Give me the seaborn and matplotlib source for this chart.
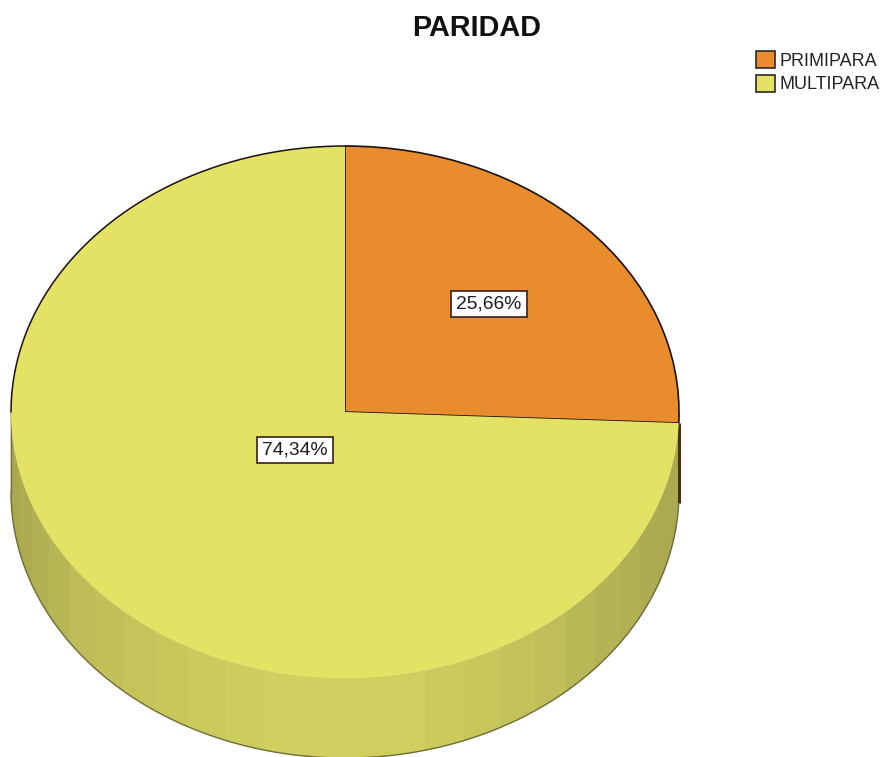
import numpy as np
import matplotlib.pyplot as plt
import seaborn as sns

# --- Data ---
CATEGORIES = ['PRIMIPARA', 'MULTIPARA']
PERCENTAGES = [25.66, 74.34]
TITLE = 'PARIDAD'

# --- Colours ---
SLICE_COLORS = ['#e98c2d', '#e3e264']
SIDE_SHADES = ['#a6a54c', '#b0af52', '#c0bf58', '#c9c85c', '#d0cf5f',
               '#cfce5e', '#c6c55b', '#b7b655', '#acab50', '#a9a84f']

# Pixel geometry of the tilted pie
WIDTH, HEIGHT = 882, 757
CENTER_X, CENTER_Y = 345, 412
RADIUS_X, RADIUS_Y = 334, 266
DEPTH = 80 / RADIUS_Y

sns.set_theme(style='white')
plt.rcParams['font.family'] = ['Liberation Sans', 'DejaVu Sans']

fig = plt.figure(figsize=(WIDTH / 100, HEIGHT / 100), dpi=100)
ax = fig.add_axes([0, 0, 1, 1])

# --- Top face ---
wedges, _ = ax.pie(PERCENTAGES, colors=SLICE_COLORS, startangle=90, counterclock=False,
                   radius=1, labels=None, wedgeprops={'linewidth': 0, 'zorder': 3})
wedges[0].set_edgecolor('#1a1208')
wedges[0].set_linewidth(1.2)

# --- Side of the cylinder, drawn as vertical facets ---
n_bands = 26
band_colors = sns.blend_palette(SIDE_SHADES, n_colors=n_bands)
edges = np.linspace(np.pi, 2 * np.pi, n_bands + 1)
for i in range(n_bands):
    t = np.linspace(edges[i], edges[i + 1], 12)
    xs = np.r_[np.cos(t), np.cos(t[::-1])]
    ys = np.r_[np.sin(t), np.sin(t[::-1]) - DEPTH]
    ax.fill(xs, ys, color=band_colors[i], lw=0.4, zorder=1)

# Lower rim and the left vertical edge
t = np.linspace(np.pi, 2 * np.pi, 300)
ax.plot(np.cos(t), np.sin(t) - DEPTH, color='#6f6e3a', lw=1.0, zorder=2)
ax.plot([-1, -1], [0, -DEPTH], color='#77763c', lw=1.0, zorder=2)

# Outline of the yellow slice where it faces the back
t = np.linspace(np.pi / 2, np.pi, 150)
ax.plot(np.cos(t), np.sin(t), color='#1a1208', lw=1.1, zorder=4)

# Sliver of the orange slice seen on the side
corner = np.deg2rad(90 - 360 * PERCENTAGES[0] / 100)
ax.plot([np.cos(corner)] * 2, [np.sin(corner), np.sin(corner) - DEPTH],
        color='#43350f', lw=2.2, solid_capstyle='butt', zorder=2)

# --- Value labels ---
label_pos = [(489, 304), (295, 450)]
for pct, (px, py) in zip(PERCENTAGES, label_pos):
    ax.text((px - CENTER_X) / RADIUS_X, (CENTER_Y - py) / RADIUS_Y,
            f'{pct:.2f}%'.replace('.', ','), fontsize=13.9, color='#1c1c1c',
            ha='center', va='center', zorder=5,
            bbox={'boxstyle': 'square,pad=0.25', 'fc': 'white', 'ec': '#33201a', 'lw': 1.2})

ax.set_aspect('auto')
ax.set_xlim(-CENTER_X / RADIUS_X, (WIDTH - CENTER_X) / RADIUS_X)
ax.set_ylim((CENTER_Y - HEIGHT) / RADIUS_Y, CENTER_Y / RADIUS_Y)
ax.axis('off')

fig.text(477 / WIDTH, 1 - 28 / HEIGHT, TITLE, fontsize=20.8, fontweight='bold',
         color='#111111', ha='center', va='center')

leg = fig.legend(handles=wedges, labels=CATEGORIES, loc='upper left',
                 bbox_to_anchor=(756 / WIDTH, 1 - 51 / HEIGHT), frameon=False,
                 fontsize=13, handlelength=1.05, handleheight=1.05, handletextpad=0.25,
                 labelspacing=0.3, borderpad=0, borderaxespad=0, labelcolor='#222222')
for h in leg.legend_handles:
    h.set_edgecolor('#2a2a2a')
    h.set_linewidth(1.2)

fig.savefig('out.png', dpi=100, facecolor='white')
